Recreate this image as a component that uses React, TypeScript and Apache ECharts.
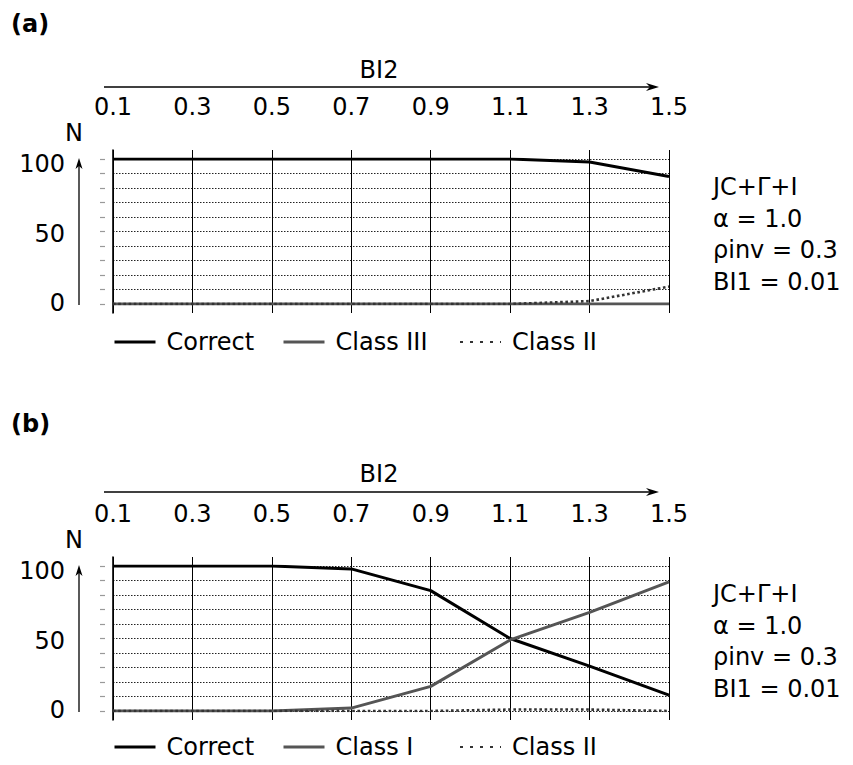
import React, { useEffect, useRef } from "react";
import * as echarts from "echarts";

const xTicks = ["0.1", "0.3", "0.5", "0.7", "0.9", "1.1", "1.3", "1.5"];
const yTicks = [0, 50, 100];

const correctA = [100, 100, 100, 100, 100, 100, 98, 88];
const classIIIA = [0, 0, 0, 0, 0, 0, 0, 0];
const classIIA = [0, 0, 0, 0, 0, 0, 2, 12];

const correctB = [100, 100, 100, 98, 83, 50, 31, 11];
const classIB = [0, 0, 0, 2, 17, 49, 68, 89];
const classIIB = [0, 0, 0, 0, 0, 1, 1, 0];

const infoLines = ["JC+Γ+I", "α = 1.0", "ρinv = 0.3", "BI1 = 0.01"];

const FONT = "DejaVu Sans";
const BLACK = "#000";
const GRAY = "#555";
const DOT = "#333";

function txt(text: string, x: number, y: number, size: number, align = "left", weight = "normal") {
  return {
    type: "text",
    x,
    y,
    silent: true,
    style: {
      text,
      fontFamily: FONT,
      fontSize: size,
      fontWeight: weight,
      fill: BLACK,
      align,
      verticalAlign: "middle",
      textAlign: align,
      textVerticalAlign: "middle",
    },
  };
}

function panelGraphics(label: string, labelY: number, dy: number, arrowY: number, bi2Y: number) {
  const els: any[] = [];
  els.push(txt(label, 11, labelY, 24, "left", "bold"));
  els.push(txt("BI2", 379, bi2Y, 24, "center"));
  els.push({
    type: "line",
    silent: true,
    shape: { x1: 104, y1: arrowY, x2: 652, y2: arrowY },
    style: { stroke: BLACK, lineWidth: 1.3 },
  });
  els.push({
    type: "polygon",
    silent: true,
    shape: { points: [[659, arrowY], [646, arrowY - 4], [650, arrowY], [646, arrowY + 4]] },
    style: { fill: BLACK },
  });
  els.push(txt("N", 74, 133 + dy, 24, "center"));
  els.push({
    type: "line",
    silent: true,
    shape: { x1: 79, y1: 305 + dy, x2: 79, y2: 166 + dy },
    style: { stroke: BLACK, lineWidth: 1.3 },
  });
  els.push({
    type: "polygon",
    silent: true,
    shape: { points: [[79, 158 + dy], [75.5, 169 + dy], [79, 166 + dy], [82.5, 169 + dy]] },
    style: { fill: BLACK },
  });
  infoLines.forEach((t, i) => {
    els.push(txt(t, 713, 187 + dy + i * 31.7, 24, "left"));
  });
  return els;
}

function frameX(gridIndex: number) {
  return {
    type: "category",
    gridIndex,
    data: xTicks,
    boundaryGap: false,
    position: "top",
    axisLine: { show: false },
    axisTick: { show: false },
    axisLabel: {
      show: true,
      margin: 31,
      fontFamily: FONT,
      fontSize: 24,
      lineHeight: 24,
      color: BLACK,
    },
    splitLine: { show: true, lineStyle: { color: BLACK, width: 1, type: "solid" } },
  };
}

function dataX(gridIndex: number) {
  return {
    type: "category",
    gridIndex,
    data: xTicks,
    boundaryGap: false,
    show: false,
  };
}

function frameY(gridIndex: number) {
  return {
    type: "value",
    gridIndex,
    min: -6.2,
    max: 106.2,
    axisLine: { show: true, lineStyle: { color: BLACK, width: 1.6 } },
    axisTick: { show: false },
    axisLabel: { show: false },
    splitLine: { show: false },
  };
}

const labelRich = {
  t100: { fontFamily: FONT, fontSize: 24, color: BLACK, padding: [10, 0, 0, 0] },
  t50: { fontFamily: FONT, fontSize: 24, color: BLACK, padding: [5, 0, 0, 0] },
  t0: { fontFamily: FONT, fontSize: 24, color: BLACK, padding: [0, 0, 2, 0] },
};

function dataY(gridIndex: number) {
  return {
    type: "value",
    gridIndex,
    min: 0,
    max: 100,
    interval: 10,
    offset: 8,
    axisLine: { show: false },
    axisTick: { show: true, length: 5, lineStyle: { color: "#999", width: 1.2 } },
    axisLabel: {
      show: true,
      margin: 40,
      fontFamily: FONT,
      fontSize: 24,
      color: BLACK,
      rich: labelRich,
      formatter: (v: number) => (yTicks.indexOf(v) >= 0 ? "{t" + v + "|" + v + "}" : ""),
    },
    splitLine: { show: true, lineStyle: { color: "#222", width: 1, type: [1.5, 1.5] } },
  };
}

function lineSeries(name: string, data: number[], xi: number, yi: number, kind: "correct" | "gray" | "dot") {
  const lineStyle =
    kind === "correct"
      ? { color: BLACK, width: 3, type: "solid" }
      : kind === "gray"
      ? { color: GRAY, width: 3, type: "solid" }
      : { color: DOT, width: 2.6, type: [2.6, 2.6] };
  return {
    type: "line",
    name,
    data,
    xAxisIndex: xi,
    yAxisIndex: yi,
    symbol: "none",
    silent: true,
    color: lineStyle.color,
    lineStyle,
  };
}

function legendItem(name: string, left: number, top: number, dotted = false) {
  const l: any = {
    data: [name],
    left,
    top,
    padding: 0,
    itemWidth: 41,
    itemHeight: 1,
    selectedMode: false,
    itemStyle: { opacity: 0 },
    textStyle: {
      fontFamily: FONT,
      fontSize: 24,
      color: BLACK,
      lineHeight: 28,
      padding: [0, 0, 0, 6],
    },
  };
  if (dotted) {
    l.lineStyle = { type: [3, 7], width: 2, color: DOT };
  } else {
    l.lineStyle = { width: 3 };
  }
  return l;
}

export default function App() {
  const ref = useRef<HTMLDivElement>(null);
  useEffect(() => {
    if (!ref.current) return;
    const chart = echarts.init(ref.current, null, { renderer: "svg" });
    const option: any = {
      animation: false,
      backgroundColor: "#fff",
      grid: [
        { left: 113, width: 556, top: 150, height: 163 },
        { left: 113, width: 556, top: 159, height: 145 },
        { left: 113, width: 556, top: 557, height: 163 },
        { left: 113, width: 556, top: 566, height: 145 },
      ],
      xAxis: [frameX(0), dataX(1), frameX(2), dataX(3)],
      yAxis: [frameY(0), dataY(1), frameY(2), dataY(3)],
      legend: [
        legendItem("Correct", 113, 328),
        legendItem("Class III", 282, 328),
        legendItem("Class II", 459, 328, true),
        legendItem("Correct", 113, 733),
        legendItem("Class I", 282, 733),
        legendItem("Class II", 459, 733, true),
      ],
      series: [
        lineSeries("Correct", correctA, 1, 1, "correct"),
        lineSeries("Class III", classIIIA, 1, 1, "gray"),
        lineSeries("Class II", classIIA, 1, 1, "dot"),
        lineSeries("Correct", correctB, 3, 3, "correct"),
        lineSeries("Class I", classIB, 3, 3, "gray"),
        lineSeries("Class II", classIIB, 3, 3, "dot"),
      ],
      graphic: [
        ...panelGraphics("(a)", 24, 0, 87, 70),
        ...panelGraphics("(b)", 424, 407, 492, 474),
      ],
    };
    chart.setOption(option);
    return () => chart.dispose();
  }, []);
  return (
    <div
      ref={ref}
      style={{ position: "absolute", left: 0, top: 0, width: 853, height: 765, background: "#fff" }}
    />
  );
}
